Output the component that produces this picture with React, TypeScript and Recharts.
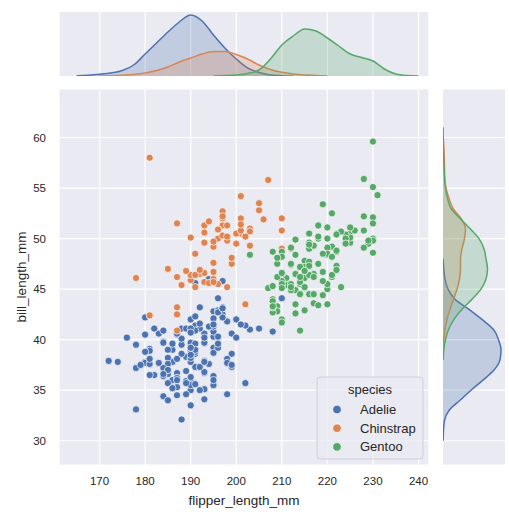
import React from 'react';
import { ScatterChart, Scatter, AreaChart, Area, XAxis, YAxis, CartesianGrid, Label } from 'recharts';

const speciesNames = ['Adelie', 'Chinstrap', 'Gentoo'];
const speciesColors = ['#4c72b0', '#dd8452', '#55a868'];
const flipperTicks = [170, 180, 190, 200, 210, 220, 230, 240];
const billTicks = [30, 35, 40, 45, 50, 55, 60];
const flipperDomain = [161.1, 242.3];
const billDomain = [27.6, 64.8];

const adelieFlipper = [
  181, 186, 195, 193, 190, 181, 195, 193, 190, 186,
  180, 182, 191, 198, 185, 195, 197, 184, 194, 174,
  180, 189, 185, 180, 187, 183, 187, 172, 180, 178,
  178, 188, 184, 195, 196, 190, 180, 181, 184, 182,
  195, 186, 196, 185, 190, 182, 179, 190, 191, 186,
  188, 190, 200, 187, 191, 186, 193, 181, 194, 185,
  195, 185, 192, 184, 192, 195, 188, 190, 198, 190,
  190, 196, 197, 190, 195, 191, 184, 187, 195, 189,
  196, 187, 193, 191, 194, 190, 189, 189, 190, 202,
  205, 185, 186, 187, 208, 190, 196, 178, 192, 192,
  203, 183, 190, 193, 184, 199, 190, 181, 197, 198,
  191, 193, 197, 191, 196, 188, 199, 189, 189, 187,
  198, 176, 202, 186, 199, 191, 195, 191, 210, 190,
  197, 193, 199, 187, 190, 191, 200, 185, 193, 193,
  187, 188, 190, 192, 185, 190, 184, 195, 193, 187,
  201,
];
const adelieBill = [
  39.1, 39.5, 40.3, 36.7, 39.3, 38.9, 39.2, 34.1, 42.0, 37.8,
  37.8, 41.1, 38.6, 34.6, 36.6, 38.7, 42.5, 34.4, 46.0, 37.8,
  37.7, 35.9, 38.2, 38.8, 35.3, 40.6, 40.5, 37.9, 40.5, 39.5,
  37.2, 39.5, 40.9, 36.4, 39.2, 38.8, 42.2, 37.6, 39.8, 36.5,
  40.8, 36.0, 44.1, 37.0, 39.6, 41.1, 37.5, 36.0, 42.3, 39.6,
  40.1, 35.0, 42.0, 34.5, 41.4, 39.0, 40.6, 36.5, 37.6, 35.7,
  41.3, 37.6, 41.1, 36.4, 41.6, 35.5, 41.1, 35.9, 41.8, 33.5,
  39.7, 39.6, 45.8, 35.5, 42.8, 40.9, 37.2, 36.2, 42.1, 34.6,
  42.9, 36.7, 35.1, 37.3, 41.3, 36.3, 36.9, 38.3, 38.9, 35.7,
  41.1, 34.0, 39.6, 36.2, 40.8, 38.1, 40.3, 33.1, 43.2, 35.0,
  41.0, 37.7, 37.8, 37.9, 39.7, 38.6, 38.2, 38.1, 43.2, 38.1,
  45.6, 39.7, 42.2, 39.6, 42.7, 38.6, 37.3, 35.7, 41.1, 36.2,
  37.7, 40.2, 41.4, 35.2, 40.6, 38.8, 41.5, 39.0, 44.1, 38.5,
  43.1, 36.8, 37.5, 38.1, 41.1, 35.6, 40.2, 37.0, 39.7, 40.2,
  40.6, 32.1, 40.7, 37.3, 39.0, 39.2, 36.6, 36.0, 37.8, 36.0,
  41.5,
];

const chinstrapFlipper = [
  192, 196, 193, 188, 197, 198, 178, 197, 195, 198,
  193, 194, 185, 201, 190, 201, 197, 181, 190, 195,
  181, 191, 187, 193, 195, 197, 200, 200, 191, 205,
  187, 201, 187, 203, 195, 199, 195, 210, 192, 205,
  210, 187, 196, 196, 196, 201, 190, 212, 187, 198,
  199, 201, 193, 203, 187, 197, 191, 203, 202, 194,
  206, 189, 195, 207, 202, 193, 210, 198,
];
const chinstrapBill = [
  46.5, 50.0, 51.3, 45.4, 52.7, 45.2, 46.1, 51.3, 46.0, 51.3,
  46.6, 51.7, 47.0, 52.0, 45.9, 50.5, 50.3, 58.0, 46.4, 49.2,
  42.4, 48.5, 43.2, 50.6, 46.7, 52.0, 50.5, 49.5, 46.4, 52.8,
  40.9, 54.2, 42.5, 51.0, 49.7, 47.5, 47.6, 52.0, 46.9, 53.5,
  49.0, 46.2, 50.9, 45.5, 50.9, 50.8, 50.1, 49.0, 51.5, 49.8,
  48.1, 51.4, 45.7, 50.7, 42.5, 52.2, 45.2, 49.3, 50.2, 45.6,
  51.9, 46.8, 45.7, 55.8, 43.5, 49.6, 50.8, 50.2,
];

const gentooFlipper = [
  211, 230, 210, 218, 215, 210, 211, 219, 209, 215,
  214, 216, 214, 213, 210, 217, 210, 221, 209, 222,
  218, 215, 213, 215, 215, 215, 216, 215, 210, 220,
  222, 209, 207, 230, 220, 220, 213, 219, 208, 208,
  208, 225, 210, 216, 222, 217, 210, 225, 213, 215,
  210, 220, 210, 225, 217, 220, 208, 220, 208, 224,
  208, 221, 214, 231, 219, 230, 214, 229, 220, 223,
  216, 221, 221, 217, 216, 230, 209, 220, 215, 223,
  212, 221, 212, 224, 212, 228, 218, 218, 212, 230,
  218, 228, 212, 224, 214, 226, 216, 222, 203, 225,
  219, 228, 215, 228, 216, 215, 210, 219, 208, 209,
  216, 229, 213, 230, 217, 230, 217, 222, 214, 215,
  222, 212, 213,
];
const gentooBill = [
  46.1, 50.0, 48.7, 50.0, 47.6, 46.5, 45.4, 46.7, 43.3, 46.8,
  40.9, 49.0, 45.5, 48.4, 45.8, 49.3, 42.0, 49.2, 46.2, 48.7,
  50.2, 45.1, 46.5, 46.3, 42.9, 46.1, 44.5, 47.8, 48.2, 50.0,
  47.3, 42.8, 45.1, 59.6, 49.1, 48.4, 42.6, 44.4, 44.0, 48.7,
  42.7, 49.6, 45.3, 49.6, 50.5, 43.6, 45.5, 50.5, 44.9, 45.2,
  46.6, 48.5, 45.1, 50.1, 46.5, 45.0, 43.8, 45.5, 43.2, 50.4,
  45.3, 46.2, 45.7, 54.3, 45.8, 49.8, 46.2, 49.5, 43.5, 50.7,
  47.7, 46.4, 48.2, 46.5, 46.4, 48.6, 47.5, 51.1, 45.2, 45.2,
  49.1, 52.5, 47.4, 50.0, 44.9, 50.8, 43.4, 51.3, 47.5, 52.1,
  47.5, 52.2, 45.5, 49.5, 44.5, 50.8, 49.4, 46.9, 48.4, 51.1,
  48.5, 55.9, 47.2, 49.1, 47.3, 46.8, 41.7, 53.4, 43.3, 48.1,
  50.5, 49.8, 43.5, 51.5, 46.2, 55.1, 44.5, 48.8, 47.2, 46.8,
  50.4, 45.2, 49.9,
];

// marginal density curves (arbitrary density units)
const kdeFlipper = [
  162.5, 165, 167.5, 170, 172.5, 175, 177.5, 180, 182.5, 185, 187.5, 190, 192.5, 195, 197.5, 200,
  202.5, 205, 207.5, 210, 212.5, 215, 217.5, 220, 222.5, 225, 227.5, 230, 232.5, 235, 237.5, 240,
];
const kdeFlipperAdelie = [
  null, 0.3, 0.8, 1.7, 3, 5.5, 11, 22, 33, 44, 54, 61, 55, 41, 28, 17,
  8, 3.5, 1, 0.3, 0.05, null, null, null, null, null, null, null, null, null, null, null,
];
const kdeFlipperChinstrap = [
  null, null, null, 0.1, 0.3, 0.8, 1.5, 3, 5.5, 9, 14, 18, 22, 24.5, 24.5, 21.5,
  17, 11, 6.5, 3.7, 2, 1, 0.4, 0.1, null, null, null, null, null, null, null, null,
];
const kdeFlipperGentoo = [
  null, null, null, null, null, null, null, null, null, null, null, null, null, 0.1, 0.4, 1,
  2.5, 6, 17, 31, 40, 47, 45, 38, 30, 22, 18.5, 15, 7, 2, 0.5, 0.1,
];
const kdeFlipperMax = 64;

const kdeBill = [
  30, 31, 32, 33, 34, 35, 36, 37, 38, 39, 40, 41, 42, 43, 44, 45, 46,
  47, 48, 49, 50, 51, 52, 53, 54, 55, 56, 57, 58, 59, 60, 61, 62,
];
const kdeBillAdelie = [
  0.2, 0.5, 1.5, 6, 17, 28, 40, 51, 57, 58, 55.5, 50.5, 39, 26, 12, 5, 2,
  0.8, 0.2, null, null, null, null, null, null, null, null, null, null, null, null, null, null,
];
const kdeBillChinstrap = [
  null, null, null, null, null, null, null, null, null, 0.2, 0.8, 2, 4, 7, 10.5, 14, 16.5,
  17.5, 17.5, 19, 21.5, 22.5, 18, 10, 6, 3, 1.8, 1.5, 1.3, 0.8, 0.3, 0.1, null,
];
const kdeBillGentoo = [
  null, null, null, null, null, null, null, null, 0.2, 0.8, 2.5, 5.5, 11, 19, 29, 38, 43,
  44.5, 43, 41, 36, 27, 17, 8, 4.5, 2.5, 1.5, 1, 0.6, 0.4, 0.2, 0.1, null,
];
const kdeBillMax = 62;

const points = [
  adelieFlipper.map((x, i) => ({ x, y: adelieBill[i] })),
  chinstrapFlipper.map((x, i) => ({ x, y: chinstrapBill[i] })),
  gentooFlipper.map((x, i) => ({ x, y: gentooBill[i] })),
];

const topData = kdeFlipper.map((x, i) => ({
  x,
  Adelie: kdeFlipperAdelie[i],
  Chinstrap: kdeFlipperChinstrap[i],
  Gentoo: kdeFlipperGentoo[i],
}));

const rightData = kdeBill.map((y, i) => ({
  y,
  Adelie: kdeBillAdelie[i],
  Chinstrap: kdeBillChinstrap[i],
  Gentoo: kdeBillGentoo[i],
}));

const FONT = '"Liberation Sans", Arial, sans-serif';
const TEXT = '#262626';
const BG = '#eaeaf2';
const tickStyle = { fill: TEXT, fontSize: 11.5, fontFamily: FONT };

const layer: React.CSSProperties = { position: 'absolute', left: 0, top: 0 };

const dot = (color: string) => (props: any) => (
  <circle cx={props.cx} cy={props.cy} r={3.6} fill={color} stroke="#ffffff" strokeWidth={0.7} />
);

const YTitle = ({ viewBox }: any) => (
  <text
    transform={`translate(${viewBox.x + 21},${viewBox.y + viewBox.height / 2}) rotate(-90)`}
    textAnchor="middle"
    dominantBaseline="central"
    fill={TEXT}
    fontSize={13.5}
    fontFamily={FONT}
  >
    bill_length_mm
  </text>
);

const XTitle = ({ viewBox }: any) => (
  <text
    x={viewBox.x + viewBox.width / 2}
    y={viewBox.y + 35}
    textAnchor="middle"
    dominantBaseline="central"
    fill={TEXT}
    fontSize={13.5}
    fontFamily={FONT}
  >
    flipper_length_mm
  </text>
);

const SpeciesLegend = () => (
  <svg width={108} height={84} style={{ position: 'absolute', left: 316, top: 376 }}>
    <rect x={1} y={1} width={106} height={82} rx={3} fill={BG} fillOpacity={0.8} stroke="#cfcfd6" />
    <text x={54} y={13} textAnchor="middle" dominantBaseline="central" fontSize={13} fill={TEXT} fontFamily={FONT}>
      species
    </text>
    {speciesNames.map((name, i) => (
      <g key={name}>
        <circle cx={21} cy={33.5 + i * 18.7} r={4.3} fill={speciesColors[i]} stroke="#ffffff" strokeWidth={0.7} />
        <text x={44} y={33.5 + i * 18.7} dominantBaseline="central" fontSize={13} fill={TEXT} fontFamily={FONT}>
          {name}
        </text>
      </g>
    ))}
  </svg>
);

export default function App() {
  return (
    <div style={{ position: 'absolute', left: 0, top: 0, width: 509, height: 512, background: '#ffffff', fontFamily: FONT }}>
      <div style={layer}>
        <AreaChart width={509} height={77} data={topData} margin={{ top: 12, right: 80, bottom: 1, left: 59 }}>
          <CartesianGrid horizontal={false} stroke="#ffffff" strokeWidth={1.2} fill={BG} />
          <XAxis type="number" dataKey="x" domain={flipperDomain} ticks={flipperTicks} allowDataOverflow hide />
          <YAxis type="number" domain={[0, kdeFlipperMax]} allowDataOverflow hide />
          {speciesNames.map((name, i) => (
            <Area
              key={name}
              type="monotone"
              dataKey={name}
              stroke={speciesColors[i]}
              strokeWidth={1.5}
              fill={speciesColors[i]}
              fillOpacity={0.25}
              connectNulls={false}
              dot={false}
              activeDot={false}
              isAnimationActive={false}
            />
          ))}
        </AreaChart>
      </div>

      <div style={layer}>
        <AreaChart
          width={509}
          height={512}
          layout="vertical"
          data={rightData}
          margin={{ top: 89, right: 4, bottom: 47, left: 443 }}
        >
          <CartesianGrid vertical={false} stroke="#ffffff" strokeWidth={1.2} fill={BG} />
          <XAxis type="number" domain={[0, kdeBillMax]} allowDataOverflow hide />
          <YAxis
            type="number"
            dataKey="y"
            domain={billDomain}
            ticks={billTicks}
            allowDataOverflow
            reversed
            hide
          />
          {speciesNames.map((name, i) => (
            <Area
              key={name}
              type="monotone"
              dataKey={name}
              stroke={speciesColors[i]}
              strokeWidth={1.5}
              fill={speciesColors[i]}
              fillOpacity={0.25}
              connectNulls={false}
              dot={false}
              activeDot={false}
              isAnimationActive={false}
            />
          ))}
        </AreaChart>
      </div>

      <div style={layer}>
        <ScatterChart width={509} height={512} margin={{ top: 89, right: 80, bottom: 0, left: 0 }}>
          <CartesianGrid stroke="#ffffff" strokeWidth={1.2} fill={BG} />
          <XAxis
            type="number"
            dataKey="x"
            domain={flipperDomain}
            ticks={flipperTicks}
            interval={0}
            allowDataOverflow
            axisLine={false}
            tickLine={false}
            tickSize={0}
            tickMargin={12}
            height={47}
            tick={tickStyle}
          >
            <Label content={<XTitle />} />
          </XAxis>
          <YAxis
            type="number"
            dataKey="y"
            domain={billDomain}
            ticks={billTicks}
            interval={0}
            allowDataOverflow
            axisLine={false}
            tickLine={false}
            tickSize={0}
            tickMargin={13}
            width={59}
            tick={tickStyle}
          >
            <Label content={<YTitle />} />
          </YAxis>
          {speciesNames.map((name, i) => (
            <Scatter
              key={name}
              name={name}
              data={points[i]}
              fill={speciesColors[i]}
              shape={dot(speciesColors[i])}
              isAnimationActive={false}
            />
          ))}
        </ScatterChart>
      </div>

      <SpeciesLegend />
    </div>
  );
}
